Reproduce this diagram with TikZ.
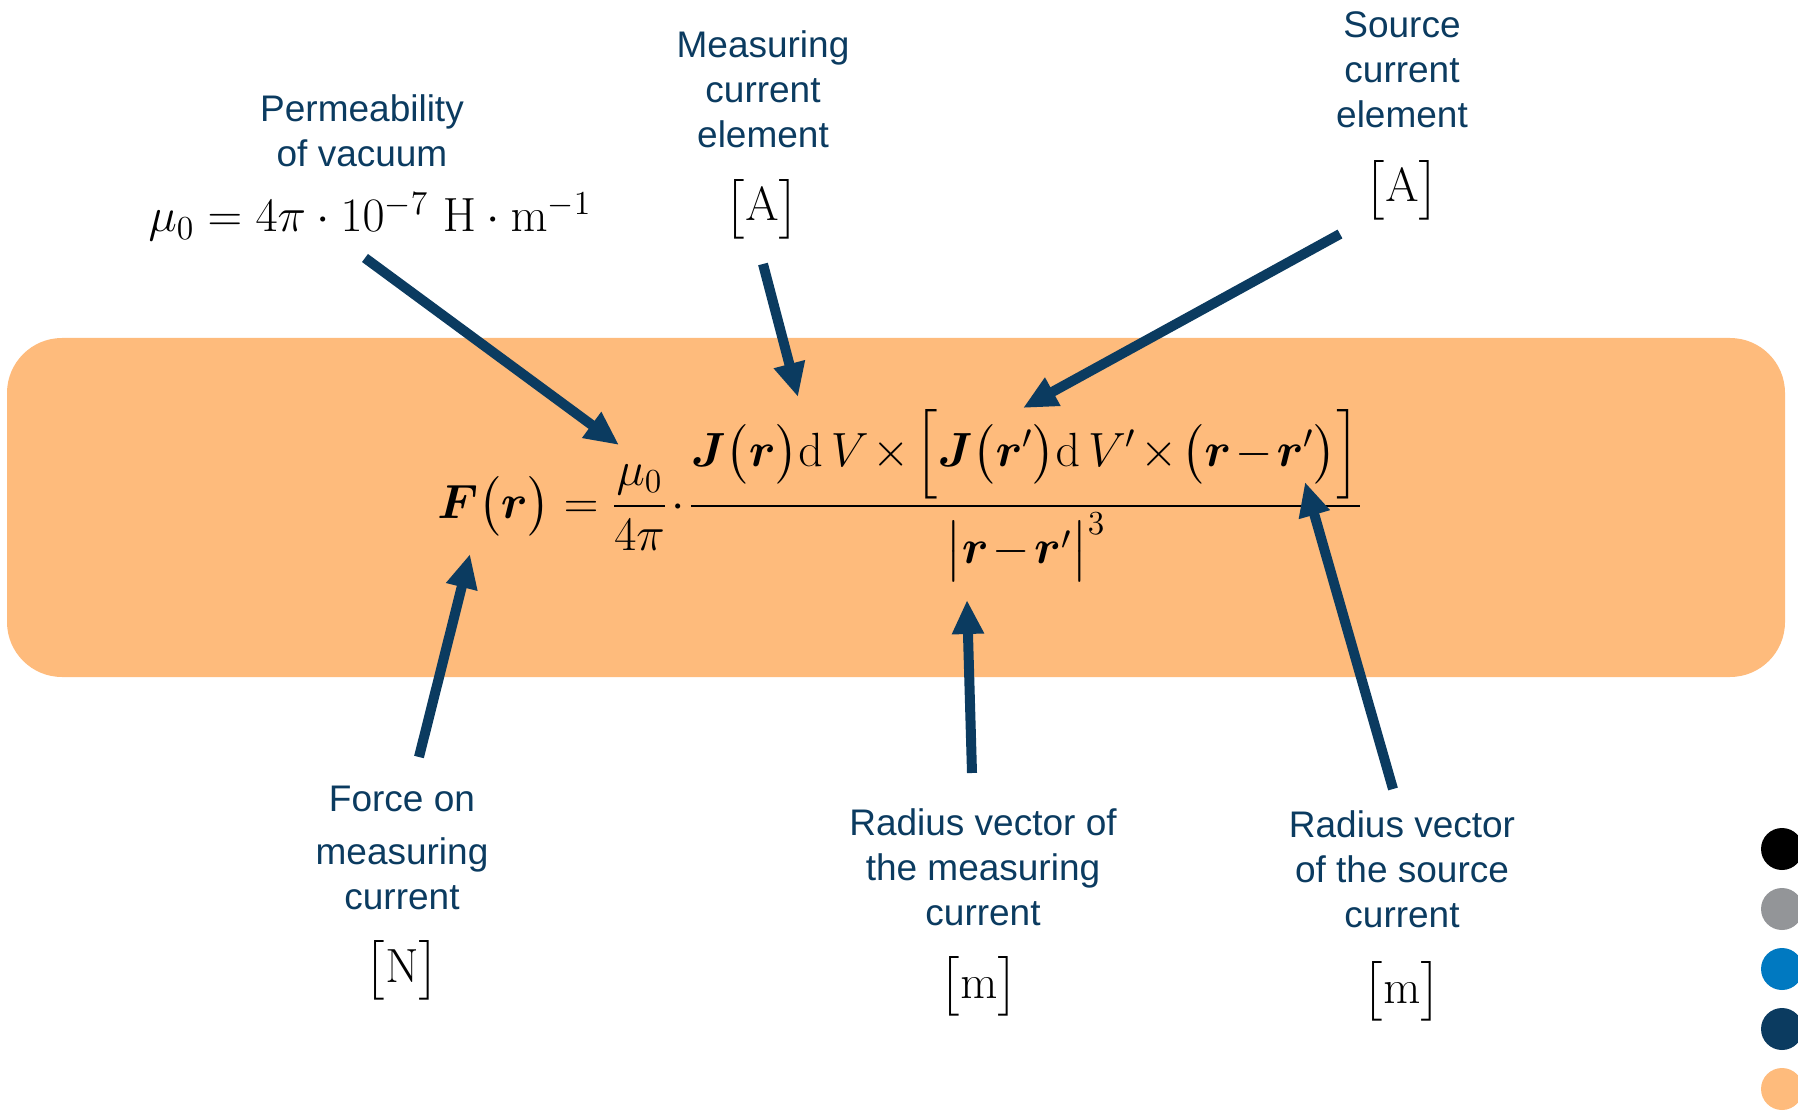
\RequirePackage{fix-cm}
\documentclass[tikz,border=0pt]{standalone}
\usepackage[no-math]{fontspec}
\usepackage{amsmath,bm}
\newfontfamily\labelfont{Liberation Sans}
\usetikzlibrary{arrows.meta}
\definecolor{navy}{HTML}{0B3B60}
\definecolor{boxorange}{HTML}{FEBB7C}
\definecolor{dotgrey}{HTML}{939598}
\definecolor{dotblue}{HTML}{0079C1}
\begin{document}
\begin{tikzpicture}[x=0.5pt,y=-0.5pt,
  lbl/.style={text=navy,font=\labelfont\fontsize{18.5}{22.5}\selectfont,align=center,inner sep=0pt,anchor=base},
  unit/.style={font=\fontsize{24}{28}\selectfont,inner sep=0pt,anchor=base},
  ptr/.style={draw=navy,line width=5pt,-{Triangle[length=17pt,width=15pt]}},
  dotc/.style={circle,inner sep=0pt,minimum size=21pt}]
\useasboundingbox (0,0) rectangle (1798,1112);
\fill[boxorange, rounded corners=27.5pt] (7,338) rectangle (1785,677);

\node[inner sep=0pt,anchor=base west,font=\fontsize{24}{28}\selectfont] (formula) at (437,518)
 {\medmuskip=1.5mu$\displaystyle \bm{F}\bigl(\bm{r}\bigr)=\frac{\mu_0}{4\pi}\cdot\frac{\bm{J}\bigl(\bm{r}\bigr)\mathrm{d}\,V\times\Bigl[\bm{J}\bigl(\bm{r}'\bigr)\mathrm{d}\,V'\times\bigl(\bm{r}-\bm{r}'\bigr)\Bigr]}{\bigl|\bm{r}-\bm{r}'\bigr|^{3}}$};

\node[inner sep=0pt,anchor=base,font=\fontsize{24}{28}\selectfont] (mu) at (370,232)
 {$\mu_0=4\pi\cdot10^{-7}\ \mathrm{H}\cdot\mathrm{m}^{-1}$};

\node[lbl] (perm) at (362,167) {Permeability\\of vacuum};
\node[lbl] (meas) at (763,148) {Measuring\\current\\element};
\node[lbl] (src) at (1402,128) {Source\\current\\element};
\node[lbl] (force) at (402,909) {Force on\\[4pt]measuring\\current};
\node[lbl] (radm) at (983,925) {Radius vector of\\the measuring\\current};
\node[lbl] (rads) at (1402,927) {Radius vector\\of the source\\current};

\node[unit] (uA1) at (762,221) {$\bigl[\mathrm{A}\bigr]$};
\node[unit] (uA2) at (1402,202) {$\bigl[\mathrm{A}\bigr]$};
\node[unit] (uN) at (402,982) {$\bigl[\mathrm{N}\bigr]$};
\node[unit] (um1) at (979,998) {$\bigl[\mathrm{m}\bigr]$};
\node[unit] (um2) at (1402,1003) {$\bigl[\mathrm{m}\bigr]$};

\coordinate (permT) at (365,258); \coordinate (permH) at (619,445);
\coordinate (measT) at (763,264); \coordinate (measH) at (798,397);
\coordinate (srcT) at (1340,234); \coordinate (srcH) at (1023,408);
\coordinate (forceT) at (419,757); \coordinate (forceH) at (470,554);
\coordinate (radmT) at (972,773); \coordinate (radmH) at (967,600);
\coordinate (radsT) at (1393,789); \coordinate (radsH) at (1305,482);
\draw[ptr] (permT) -- (permH);
\draw[ptr] (measT) -- (measH);
\draw[ptr] (srcT) -- (srcH);
\draw[ptr] (forceT) -- (forceH);
\draw[ptr] (radmT) -- (radmH);
\draw[ptr] (radsT) -- (radsH);

\node[dotc,fill=black] (d1) at (1782,849) {};
\node[dotc,fill=dotgrey] (d2) at (1782,909) {};
\node[dotc,fill=dotblue] (d3) at (1782,969) {};
\node[dotc,fill=navy] (d4) at (1782,1029) {};
\node[dotc,fill=boxorange] (d5) at (1782,1089) {};
\end{tikzpicture}
\end{document}
